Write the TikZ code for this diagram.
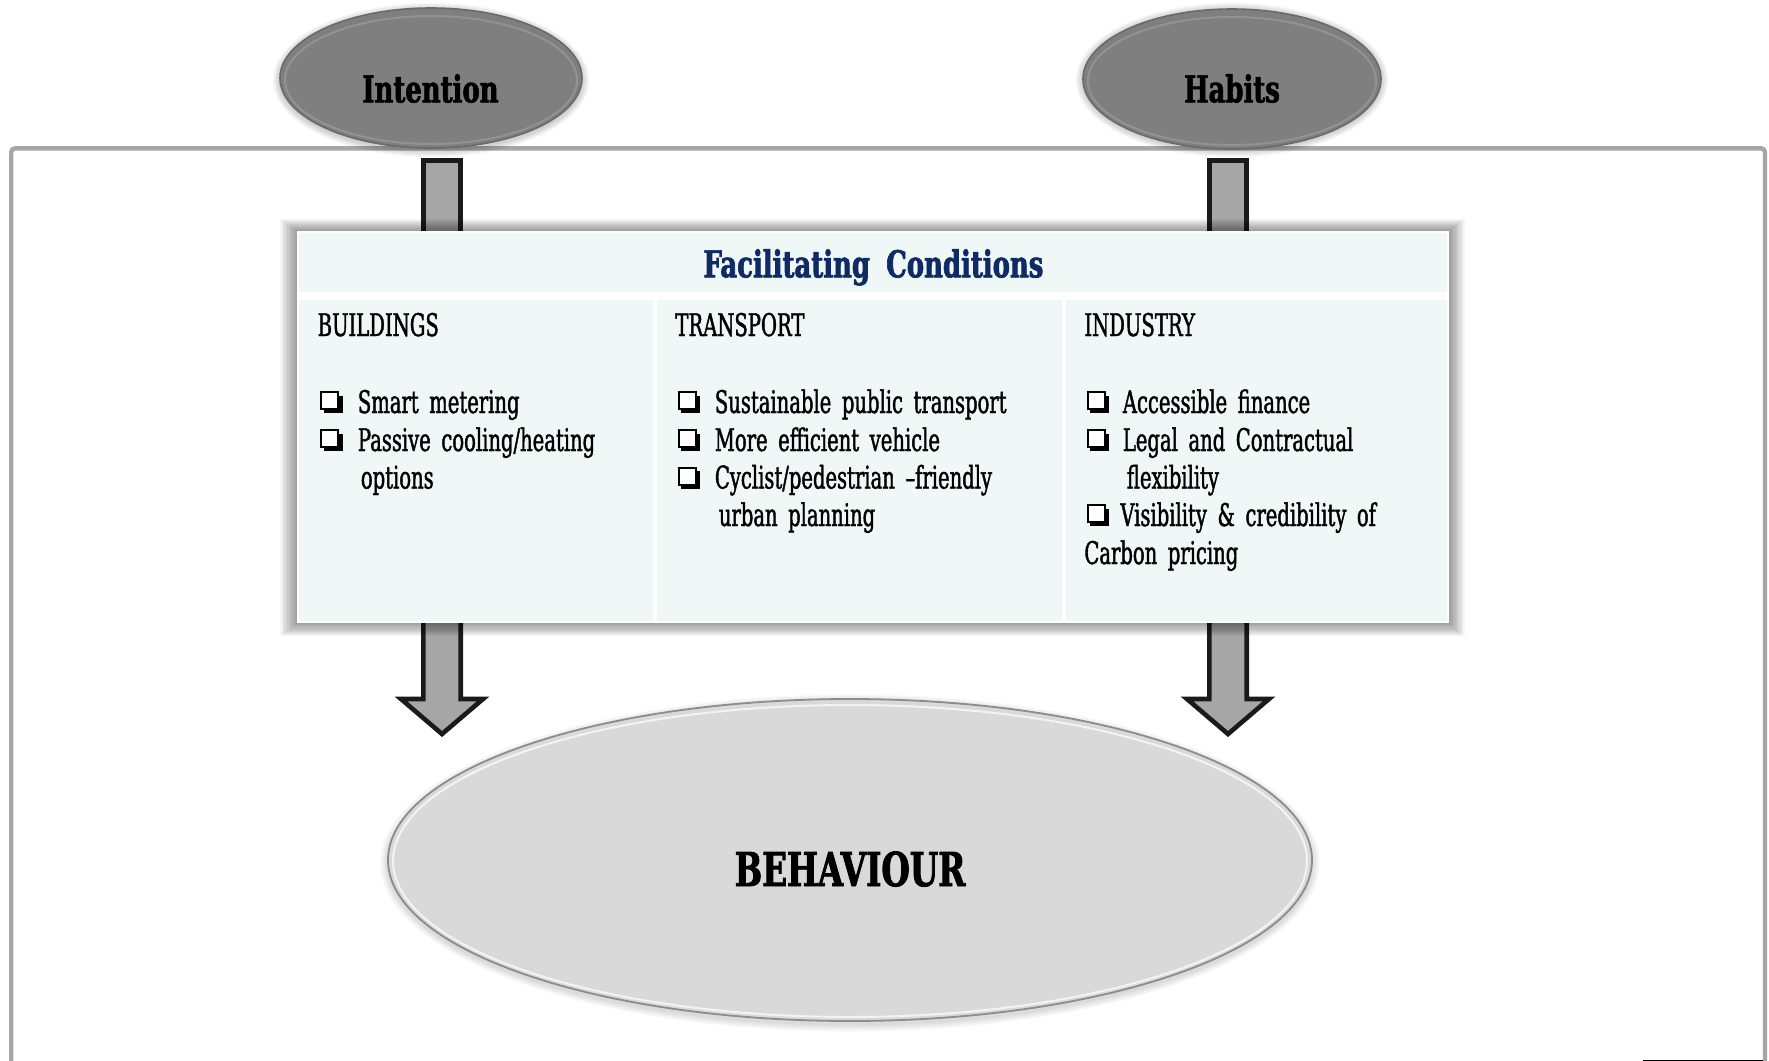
\documentclass[tikz,border=0pt]{standalone}
\usepackage{fontspec}
\setmainfont{DejaVu Serif}
\newfontfamily\bodyfont[FakeStretch=0.627,WordSpace=1.7,FakeBold=1.3]{DejaVu Serif}
\newfontfamily\titlefont[FakeStretch=0.70,WordSpace=1.8,FakeBold=1.8]{DejaVu Serif}
\usetikzlibrary{shapes.geometric,calc}

\definecolor{framegray}{HTML}{A6A6A6}
\definecolor{capfill}{HTML}{7F7F7F}
\definecolor{caprim}{HTML}{6A6A6A}
\definecolor{panelfill}{HTML}{EFF8F7}
\definecolor{headblue}{HTML}{102A66}
\definecolor{arrowfill}{HTML}{A6A6A6}
\definecolor{arrowline}{HTML}{1A1A1A}
\definecolor{behfill}{HTML}{D9D9D9}
\definecolor{behrim}{HTML}{8C8C8C}

\tikzset{
  topoval/.style={ellipse, fill=capfill, draw=caprim, line width=0.8pt,
    minimum width=151pt, minimum height=70pt, inner sep=0pt},
  ovaltext/.style={font=\titlefont\bfseries\fontsize{18.5}{20}\selectfont,
    text=black, inner sep=0pt, anchor=base},
  colhead/.style={font=\bodyfont\fontsize{15.6}{18}\selectfont,
    text=black, inner sep=0pt, anchor=base west},
  itemtext/.style={colhead},
  blockarrow/.style={fill=arrowfill, draw=arrowline, line width=2.3pt, line join=miter},
  checkbox/.pic={
    \fill[black] (4,-17.5) rectangle (23,0);
    \draw[black, line width=1pt, fill=white] (1.5,-21) rectangle (18.5,-4);
  },
}

\begin{document}
\begin{tikzpicture}[x=0.5pt, y=-0.5pt]
  \useasboundingbox[fill=white] (0,0) rectangle (1769,1061);

  % outer frame, open at the bottom
  \draw[framegray, line width=2.2pt, rounded corners=2pt]
    (11.2,1080) -- (11.2,148.3) -- (1765,148.3) -- (1765,1080);
  \draw[black, line width=0.5pt] (1643,1060) -- (1763,1060);

  % soft shadows of the two upper ellipses
  \foreach \k in {1,...,6} {
    \fill[black, opacity=0.03] (431,80) ellipse ({151+\k*1.2} and {70+\k*1.2});
    \fill[black, opacity=0.03] (1232,80) ellipse ({149+\k*1.2} and {70+\k*1.2});
  }
  \node[topoval] (intent) at (431,78) {};
  \node[topoval, minimum width=149pt] (habit) at (1232,79) {};
  \draw[white, opacity=0.15, line width=1pt] (431,80) ellipse (146 and 64);
  \draw[white, opacity=0.15, line width=1pt] (1232,81) ellipse (144 and 64);

  % stems entering the panel
  \coordinate (iStem) at (442,160.3);
  \coordinate (hStem) at (1228,160.3);
  \draw[blockarrow] ($(iStem)+(-18.7,0)$) rectangle ($(iStem)+(18.7,100)$);
  \draw[blockarrow] ($(hStem)+(-18.7,0)$) rectangle ($(hStem)+(18.7,100)$);

  % block arrows leaving the panel
  \coordinate (iTip) at (442,734);
  \coordinate (hTip) at (1228,734);
  \foreach \t in {iTip,hTip} {
    \draw[blockarrow]
      ($(\t)+(-18.7,-130)$) -- ($(\t)+(-18.7,-35)$) -- ($(\t)+(-41,-35)$) --
      (\t) -- ($(\t)+(41,-35)$) -- ($(\t)+(18.7,-35)$) -- ($(\t)+(18.7,-130)$) -- cycle;
  }

  % panel shadow
  \foreach \k in {1,...,12} {
    \fill[black, opacity=0.035]
      ({297-\k*1.4},{231-\k*1.0}) rectangle ({1449+\k*1.3},{623+\k*1.1});
  }
  \node[fill=white, inner sep=0pt, minimum width=576pt, minimum height=196pt]
    (panel) at (873,427) {};
  \fill[panelfill] (299,233) rectangle (1447,292);
  \fill[panelfill] (299,300) rectangle (653,621);
  \fill[panelfill] (657,300) rectangle (1062,621);
  \fill[panelfill] (1066,300) rectangle (1447,621);

  % behaviour ellipse
  \foreach \k in {1,...,6} {
    \fill[black, opacity=0.025] (850,863) ellipse ({462+\k*1.3} and {161+\k*1.3});
  }
  \node[ellipse, fill=behfill, draw=behrim, line width=0.9pt, inner sep=0pt,
        minimum width=462pt, minimum height=161pt] (behav) at (850,860) {};
  \draw[white, opacity=0.7, line width=1pt] (850,861) ellipse (457 and 156);

  % texts
  \node[ovaltext] (intentT) at (430.5,102.3) {Intention};
  \node[ovaltext] (habitT) at (1232,102.3) {Habits};
  \node[ovaltext, text=headblue, font=\titlefont\bfseries\fontsize{18.5}{20}\selectfont]
    (fcT) at (873.4,277.3) {Facilitating Conditions};
  \node[ovaltext, font=\titlefont\bfseries\fontsize{23.3}{26}\selectfont]
    (behavT) at (850,886) {BEHAVIOUR};

  \node[colhead] (hBuild) at (317.3,336) {BUILDINGS};
  \node[colhead] (hTrans) at (675,336) {TRANSPORT};
  \node[colhead] (hInd) at (1084,336) {INDUSTRY};

  % buildings
  \pic at (319.5,413) {checkbox};
  \pic at (319.5,451) {checkbox};
  \node[itemtext] (b1) at (357.5,413) {Smart metering};
  \node[itemtext] (b2) at (357.5,451) {Passive cooling/heating};
  \node[itemtext] (b3) at (360.5,488.5) {options};

  % transport
  \pic at (677,413) {checkbox};
  \pic at (677,451) {checkbox};
  \pic at (677,488.5) {checkbox};
  \node[itemtext] (t1) at (714.5,413) {Sustainable public transport};
  \node[itemtext] (t2) at (714.5,451) {More efficient vehicle};
  \node[itemtext] (t3) at (714.5,488.5) {Cyclist/pedestrian –friendly};
  \node[itemtext] (t4) at (718.5,526) {urban planning};

  % industry
  \pic at (1086,413) {checkbox};
  \pic at (1086,451) {checkbox};
  \pic at (1086,526) {checkbox};
  \node[itemtext] (i1) at (1122.5,413) {Accessible finance};
  \node[itemtext] (i2) at (1122.5,451) {Legal and Contractual};
  \node[itemtext] (i3) at (1126.5,488.5) {flexibility};
  \node[itemtext] (i4) at (1120,526) {Visibility \& credibility of};
  \node[itemtext] (i5) at (1084,564) {Carbon pricing};
\end{tikzpicture}
\end{document}
